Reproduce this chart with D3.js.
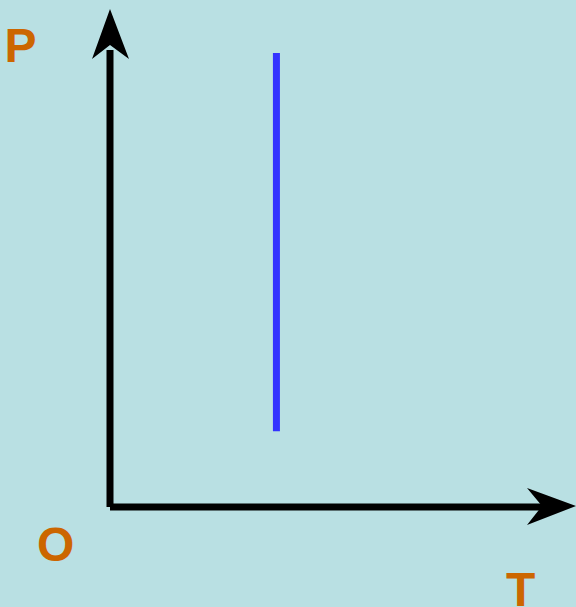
<!DOCTYPE html>
<html>
<head>
<meta charset="utf-8">
<script src="https://cdn.jsdelivr.net/npm/d3@7"></script>
<style>
  body { margin: 0; background: #b9e0e3; }
  svg { display: block; }
</style>
</head>
<body>
<div id="chart"></div>
<script>
// isothermal process: constant T, pressure range
const tValues = [10, 10];
const pValues = [1, 6];
const axisLabels = ["P", "O", "T"];

const width = 576, height = 607;
const origin = { x: 110, y: 507 };

const xScale = d3.scaleLinear().domain([0, 28]).range([origin.x, 576]);
const yScale = d3.scaleLinear().domain([0, 6.58]).range([origin.y, 9]);

const svg = d3.select("#chart")
  .append("svg")
  .attr("width", width)
  .attr("height", height);

svg.append("rect")
  .attr("width", width)
  .attr("height", height)
  .attr("fill", "#b9e0e3");

// axes
svg.append("line")
  .attr("x1", origin.x).attr("y1", origin.y)
  .attr("x2", origin.x).attr("y2", 50)
  .attr("stroke", "#000").attr("stroke-width", 7);

svg.append("line")
  .attr("x1", origin.x).attr("y1", origin.y)
  .attr("x2", 545).attr("y2", origin.y)
  .attr("stroke", "#000").attr("stroke-width", 7);

// arrow heads
svg.append("path")
  .attr("d", `M${origin.x},9 L${origin.x + 19},59 L${origin.x},45 L${origin.x - 18},59 Z`)
  .attr("fill", "#000");

svg.append("path")
  .attr("d", `M576,${origin.y - 1} L527,${origin.y + 18} L542,${origin.y - 1} L527,${origin.y - 19} Z`)
  .attr("fill", "#000");

// process line
const line = d3.line()
  .x((d, i) => xScale(tValues[i]))
  .y(d => yScale(d));

svg.append("path")
  .datum(pValues)
  .attr("d", line)
  .attr("fill", "none")
  .attr("stroke", "#3333ff")
  .attr("stroke-width", 7);

// labels
const labelPos = [[4.5, 62], [37, 561], [506, 606]];
svg.selectAll("text.lab")
  .data(axisLabels)
  .join("text")
  .attr("class", "lab")
  .attr("x", (d, i) => labelPos[i][0])
  .attr("y", (d, i) => labelPos[i][1])
  .attr("font-family", "Liberation Sans, Arial, sans-serif")
  .attr("font-weight", "bold")
  .attr("font-size", 48)
  .attr("fill", "#cc6600")
  .text(d => d);
</script>
</body>
</html>
